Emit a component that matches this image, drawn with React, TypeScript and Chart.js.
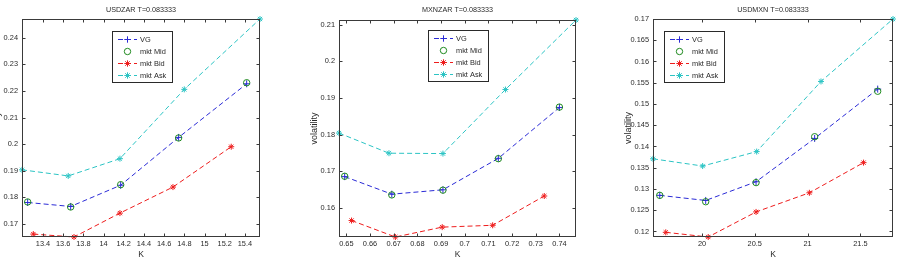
import React, { useEffect, useRef } from "react";
import { Chart, registerables } from "chart.js";
Chart.register(...registerables);

// ---------- USDZAR ----------
const zarTitle = "USDZAR T=0.083333";
const zarK_Mid = [13.248, 13.674, 14.169, 14.743, 15.417];
const zarVG = [0.178, 0.1765, 0.1845, 0.2025, 0.2227];
const zarMid = [0.1782, 0.1763, 0.1847, 0.2023, 0.2231];
const zarK_Bid = [13.304, 13.707, 14.162, 14.687, 15.264];
const zarBid = [0.1661, 0.165, 0.174, 0.1838, 0.199];
const zarK_Ask = [13.192, 13.65, 14.162, 14.799, 15.549];
const zarAsk = [0.1903, 0.188, 0.1945, 0.2206, 0.2471];
const zarXTicks = [13.4, 13.6, 13.8, 14, 14.2, 14.4, 14.6, 14.8, 15, 15.2, 15.4];
const zarYTicks = [0.17, 0.18, 0.19, 0.2, 0.21, 0.22, 0.23, 0.24];

// ---------- MXNZAR ----------
const mxnzarTitle = "MXNZAR T=0.083333";
const mxnzarK_Mid = [0.6493, 0.6692, 0.6908, 0.7142, 0.74];
const mxnzarVG = [0.1685, 0.1637, 0.1649, 0.1735, 0.1874];
const mxnzarMid = [0.1686, 0.1635, 0.1648, 0.1734, 0.1875];
const mxnzarK_Bid = [0.6522, 0.6707, 0.6905, 0.7118, 0.7336];
const mxnzarBid = [0.1565, 0.152, 0.1547, 0.1552, 0.1632];
const mxnzarK_Ask = [0.6469, 0.668, 0.6908, 0.7172, 0.747];
const mxnzarAsk = [0.1804, 0.1749, 0.1748, 0.1923, 0.2113];
const mxnzarXTicks = [0.65, 0.66, 0.67, 0.68, 0.69, 0.7, 0.71, 0.72, 0.73, 0.74];
const mxnzarYTicks = [0.16, 0.17, 0.18, 0.19, 0.2, 0.21];

// ---------- USDMXN ----------
const mxnTitle = "USDMXN T=0.083333";
const mxnK_Mid = [19.6, 20.035, 20.512, 21.067, 21.664];
const mxnVG = [0.1285, 0.1273, 0.1317, 0.1419, 0.1535];
const mxnMid = [0.1285, 0.127, 0.1315, 0.1423, 0.153];
const mxnK_Bid = [19.657, 20.059, 20.512, 21.017, 21.53];
const mxnBid = [0.1198, 0.1187, 0.1246, 0.1291, 0.1362];
const mxnK_Ask = [19.536, 20.006, 20.518, 21.127, 21.809];
const mxnAsk = [0.1371, 0.1354, 0.1388, 0.1553, 0.17];
const mxnXTicks = [20, 20.5, 21, 21.5];
const mxnYTicks = [0.12, 0.125, 0.13, 0.135, 0.14, 0.145, 0.15, 0.155, 0.16, 0.165, 0.17];

const legendLabels = ["VG", "mkt Mid", "mkt Bid", "mkt Ask"];
const COL_VG = "#2a2ad6";
const COL_MID = "#1f8a1f";
const COL_BID = "#ee1c1c";
const COL_ASK = "#2cc4c4";
const TXT = "#2a2a2a";
const FONT_FAMILY = "'Liberation Sans', Arial, sans-serif";
const H = 262;

type Panel = {
  title: string;
  kMid: number[]; vg: number[]; mid: number[];
  kBid: number[]; bid: number[];
  kAsk: number[]; ask: number[];
  xTicks: number[]; yTicks: number[];
  x: number; w: number;
  area: { left: number; top: number; right: number; bottom: number };
  legend: { x: number; y: number };
};

const panels: Panel[] = [
  {
    title: zarTitle, kMid: zarK_Mid, vg: zarVG, mid: zarMid, kBid: zarK_Bid, bid: zarBid,
    kAsk: zarK_Ask, ask: zarAsk, xTicks: zarXTicks, yTicks: zarYTicks,
    x: 0, w: 300, area: { left: 22, top: 19, right: 260, bottom: 237 }, legend: { x: 112, y: 31 },
  },
  {
    title: mxnzarTitle, kMid: mxnzarK_Mid, vg: mxnzarVG, mid: mxnzarMid, kBid: mxnzarK_Bid, bid: mxnzarBid,
    kAsk: mxnzarK_Ask, ask: mxnzarAsk, xTicks: mxnzarXTicks, yTicks: mxnzarYTicks,
    x: 300, w: 300, area: { left: 39, top: 20, right: 276, bottom: 237 }, legend: { x: 128, y: 30 },
  },
  {
    title: mxnTitle, kMid: mxnK_Mid, vg: mxnVG, mid: mxnMid, kBid: mxnK_Bid, bid: mxnBid,
    kAsk: mxnK_Ask, ask: mxnAsk, xTicks: mxnXTicks, yTicks: mxnYTicks,
    x: 600, w: 298, area: { left: 53, top: 19, right: 293, bottom: 237 }, legend: { x: 64, y: 31 },
  },
];

const fmt = (v: number | string) => String(+Number(v).toFixed(4));
const pts = (xs: number[], ys: number[]) => xs.map((x, i) => ({ x, y: ys[i] }));

function drawMarker(ctx: CanvasRenderingContext2D, kind: string, x: number, y: number, r: number, color: string) {
  ctx.save();
  ctx.strokeStyle = color;
  ctx.lineWidth = 1;
  ctx.setLineDash([]);
  ctx.beginPath();
  if (kind === "cross" || kind === "star") {
    ctx.moveTo(x - r, y); ctx.lineTo(x + r, y);
    ctx.moveTo(x, y - r); ctx.lineTo(x, y + r);
    if (kind === "star") {
      const d = r * 0.7;
      ctx.moveTo(x - d, y - d); ctx.lineTo(x + d, y + d);
      ctx.moveTo(x - d, y + d); ctx.lineTo(x + d, y - d);
    }
  } else {
    ctx.arc(x, y, r, 0, Math.PI * 2);
  }
  ctx.stroke();
  ctx.restore();
}

function ChartPanel({ p }: { p: Panel }) {
  const ref = useRef<HTMLCanvasElement>(null);
  useEffect(() => {
    const all = [...p.vg, ...p.mid, ...p.bid, ...p.ask];
    const allK = [...p.kMid, ...p.kBid, ...p.kAsk];
    const yMin = Math.min(...all), yMax = Math.max(...all);
    const xMin = Math.min(...allK), xMax = Math.max(...allK);

    const deco = {
      id: "deco",
      afterDraw(chart: any) {
        const ctx: CanvasRenderingContext2D = chart.ctx;
        const a = chart.chartArea;
        const xs = chart.scales.x, ys = chart.scales.y;
        ctx.save();
        // box
        ctx.strokeStyle = "#3a3a3a";
        ctx.lineWidth = 1;
        ctx.setLineDash([]);
        const L = Math.round(a.left) + 0.5, R = Math.round(a.right) - 0.5;
        const T = Math.round(a.top) + 0.5, B = Math.round(a.bottom) - 0.5;
        ctx.strokeRect(L, T, R - L, B - T);
        // inward ticks
        const tl = 3;
        ctx.beginPath();
        p.xTicks.forEach((v) => {
          const px = Math.round(xs.getPixelForValue(v)) + 0.5;
          ctx.moveTo(px, B); ctx.lineTo(px, B - tl);
          ctx.moveTo(px, T); ctx.lineTo(px, T + tl);
        });
        p.yTicks.forEach((v) => {
          const py = Math.round(ys.getPixelForValue(v)) + 0.5;
          ctx.moveTo(L, py); ctx.lineTo(L + tl, py);
          ctx.moveTo(R, py); ctx.lineTo(R - tl, py);
        });
        ctx.stroke();
        // titles
        ctx.fillStyle = TXT;
        ctx.textAlign = "center";
        ctx.textBaseline = "middle";
        const cx = (a.left + a.right) / 2, cy = (a.top + a.bottom) / 2;
        ctx.font = `7.2px ${FONT_FAMILY}`;
        ctx.fillText(p.title, cx, 10);
        ctx.font = `8.5px ${FONT_FAMILY}`;
        ctx.fillText("K", cx, 255);
        ctx.save();
        ctx.translate(a.left - 24, cy);
        ctx.rotate(-Math.PI / 2);
        ctx.font = `9px ${FONT_FAMILY}`;
        ctx.fillText("volatility", 0, 0);
        ctx.restore();
        // legend
        const lx = p.legend.x, ly = p.legend.y;
        const lw = 59.5, lh = 51;
        ctx.fillStyle = "#ffffff";
        ctx.fillRect(lx, ly, lw, lh);
        ctx.strokeStyle = "#2a2a2a";
        ctx.strokeRect(Math.round(lx) + 0.5, Math.round(ly) + 0.5, Math.round(lw), Math.round(lh));
        const cols = [COL_VG, COL_MID, COL_BID, COL_ASK];
        const kinds = ["cross", "circle", "star", "star"];
        ctx.font = `7.4px ${FONT_FAMILY}`;
        ctx.textAlign = "left";
        legendLabels.forEach((lab, i) => {
          const ry = Math.round(ly + 8 + i * 11.9) + 0.5;
          if (i !== 1) {
            ctx.save();
            ctx.strokeStyle = cols[i];
            ctx.setLineDash([5, 3]);
            ctx.beginPath();
            ctx.moveTo(lx + 6, ry); ctx.lineTo(lx + 25, ry);
            ctx.stroke();
            ctx.restore();
          }
          drawMarker(ctx, kinds[i], lx + 15.5, ry, 3.2, cols[i]);
          ctx.fillStyle = TXT;
          ctx.fillText(lab, lx + 28, ry);
        });
        ctx.restore();
      },
    };

    const tickFont = { family: FONT_FAMILY, size: 7.4 };
    const chart = new Chart(ref.current!, {
      type: "scatter",
      data: {
        datasets: [
          {
            label: "VG", data: pts(p.kMid, p.vg), showLine: true, borderColor: COL_VG, backgroundColor: COL_VG,
            borderWidth: 1, borderDash: [5, 3], pointStyle: "cross", pointRadius: 3.5, pointBorderWidth: 1,
            pointBorderColor: COL_VG, clip: false, order: 1,
          },
          {
            label: "mkt Mid", data: pts(p.kMid, p.mid), showLine: false, borderColor: COL_MID,
            backgroundColor: "rgba(0,0,0,0)", pointStyle: "circle", pointRadius: 3.2, pointBorderWidth: 1,
            clip: false, order: 0,
          },
          {
            label: "mkt Bid", data: pts(p.kBid, p.bid), showLine: true, borderColor: COL_BID, backgroundColor: COL_BID,
            borderWidth: 1, borderDash: [5, 3], pointStyle: "star", pointRadius: 3, pointBorderWidth: 1,
            clip: false, order: 2,
          },
          {
            label: "mkt Ask", data: pts(p.kAsk, p.ask), showLine: true, borderColor: COL_ASK, backgroundColor: COL_ASK,
            borderWidth: 1, borderDash: [5, 3], pointStyle: "star", pointRadius: 3, pointBorderWidth: 1,
            clip: false, order: 3,
          },
        ],
      },
      options: {
        responsive: false,
        animation: false,
        devicePixelRatio: 1,
        layout: { padding: { left: 0, top: p.area.top, right: p.w - p.area.right, bottom: 0 } },
        plugins: { legend: { display: false }, tooltip: { enabled: false }, title: { display: false } },
        scales: {
          x: {
            type: "linear", min: xMin, max: xMax,
            grid: { display: false, drawTicks: false }, border: { display: false },
            ticks: { font: tickFont, color: TXT, padding: 3, maxRotation: 0, autoSkip: false, callback: (v: any) => fmt(v) },
            afterBuildTicks: (s: any) => { s.ticks = p.xTicks.map((v) => ({ value: v })); },
            afterFit: (s: any) => { s.height = H - p.area.bottom; },
          },
          y: {
            type: "linear", min: yMin, max: yMax,
            grid: { display: false, drawTicks: false }, border: { display: false },
            ticks: { font: tickFont, color: TXT, padding: 4, autoSkip: false, callback: (v: any) => fmt(v) },
            afterBuildTicks: (s: any) => { s.ticks = p.yTicks.map((v) => ({ value: v })); },
            afterFit: (s: any) => { s.width = p.area.left; },
          },
        },
      } as any,
      plugins: [deco],
    });
    return () => chart.destroy();
  }, [p]);
  return (
    <canvas
      ref={ref}
      width={p.w}
      height={H}
      style={{ position: "absolute", left: p.x, top: 0, width: p.w, height: H }}
    />
  );
}

export default function App() {
  return (
    <div style={{ position: "absolute", left: 0, top: 0, width: 898, height: H, background: "#ffffff", overflow: "hidden" }}>
      {panels.map((p) => (
        <ChartPanel key={p.title} p={p} />
      ))}
    </div>
  );
}
